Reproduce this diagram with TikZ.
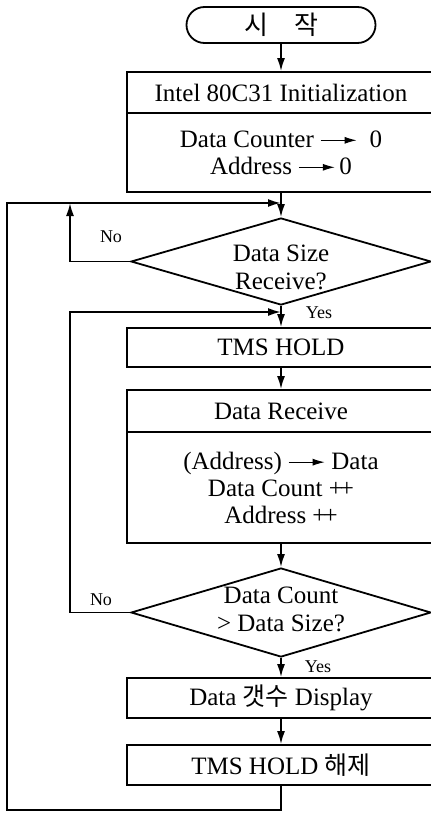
\documentclass[tikz,border=0pt]{standalone}
\usepackage{fontspec}
\setmainfont{Liberation Serif}
\newfontfamily\kr{Noto Sans CJK KR}
\usetikzlibrary{shapes.geometric,positioning,arrows.meta}
\tikzset{
procbox/.style={
  draw,
  rectangle,
  minimum width=154pt,
  minimum height=#1,
  inner sep=1pt,
  align=center,
  font=\fontsize{12.5}{13.5}\selectfont
  },
decision/.style={
  draw,
  diamond,
  minimum width=150pt,
  minimum height=#1,
  inner sep=0pt
  },
decisiontext/.style={
  align=center,
  inner sep=0pt,
  font=\fontsize{12.5}{14}\selectfont
  },
terminal/.style={
  draw,
  rectangle,
  rounded corners=9pt,
  minimum width=94.5pt,
  minimum height=18pt,
  inner sep=0pt,
  font=\fontsize{13}{14}\selectfont
  },
yesno/.style={
  inner sep=1pt,
  font=\fontsize{9}{11}\selectfont
  }
}
\newcommand{\assignto}{\tikz[baseline=-0.6ex]\draw[line width=0.5pt,-{Latex[length=6pt,width=3.5pt]}] (0pt,0pt) -- (18pt,0pt);}

\begin{document}
\begin{tikzpicture}[x=0.5pt,y=-0.5pt,>={Latex[length=6.5pt,width=4pt]},line width=0.9pt]

\useasboundingbox (0,0) rectangle (431,813);
\clip (0,0) rectangle (431,813);

% main column
\node[terminal] (start) at (281,25) {{\kr 시}\hspace{13pt}{\kr 작}};
\node[procbox=20.5pt] (init) at (281,92.5) {Intel 80C31 Initialization};
\node[procbox=39.5pt] (clear) at (281,152.5) {Data Counter \assignto\ \ 0\\Address \assignto\,0};

\node[decision=43.5pt] (sizeq) at (281,261.5) {};
\node[decisiontext] (sizeqtxt) at (281,267) {Data Size\\Receive?};

\node[procbox=19.5pt] (hold) at (281,347.5) {TMS HOLD};
\node[procbox=21pt] (recv) at (281,411) {Data Receive};
\node[procbox=55.5pt] (calc) at (281,487.5) {(Address) \assignto\ Data\\Data Count +\kern-1.5pt+\\Address +\kern-1.5pt+};

\node[decision=44.5pt] (countq) at (281,612.5) {};
\node[decisiontext] (countqtxt) at (281,609) {Data Count\\> Data Size?};

\node[procbox=20pt] (disp) at (281,698) {Data {\kr 갯수} Display};
\node[procbox=20pt] (release) at (281,765) {TMS HOLD {\kr 해제}};

\node[yesno] (no1) at (111,237) {No};
\node[yesno] (yes1) at (319,313) {Yes};
\node[yesno] (no2) at (101,600) {No};
\node[yesno] (yes2) at (318,667) {Yes};

% junctions and loop corners
\coordinate (j1) at (281,203);
\coordinate (j2) at (281,312);
\coordinate (n1) at (70,203);
\coordinate (n2) at (70,312);
\coordinate (o1) at (7,810);
\coordinate (o2) at (7,203);

\draw[->] (start) -- (init);
\draw[->] (clear) -- (sizeq);
\draw[->] (sizeq) -- (hold);
\draw[->] (hold) -- (recv);
\draw[->] (calc) -- (countq);
\draw[->] (countq) -- (disp);
\draw[->] (disp) -- (release);

% back edges
\draw[->] (sizeq.west) -| (n1);
\draw[->] (countq.west) -| (n2) -- (j2);
\draw[->] (release.south) |- (o1) -- (o2) -- (j1);

\end{tikzpicture}
\end{document}
